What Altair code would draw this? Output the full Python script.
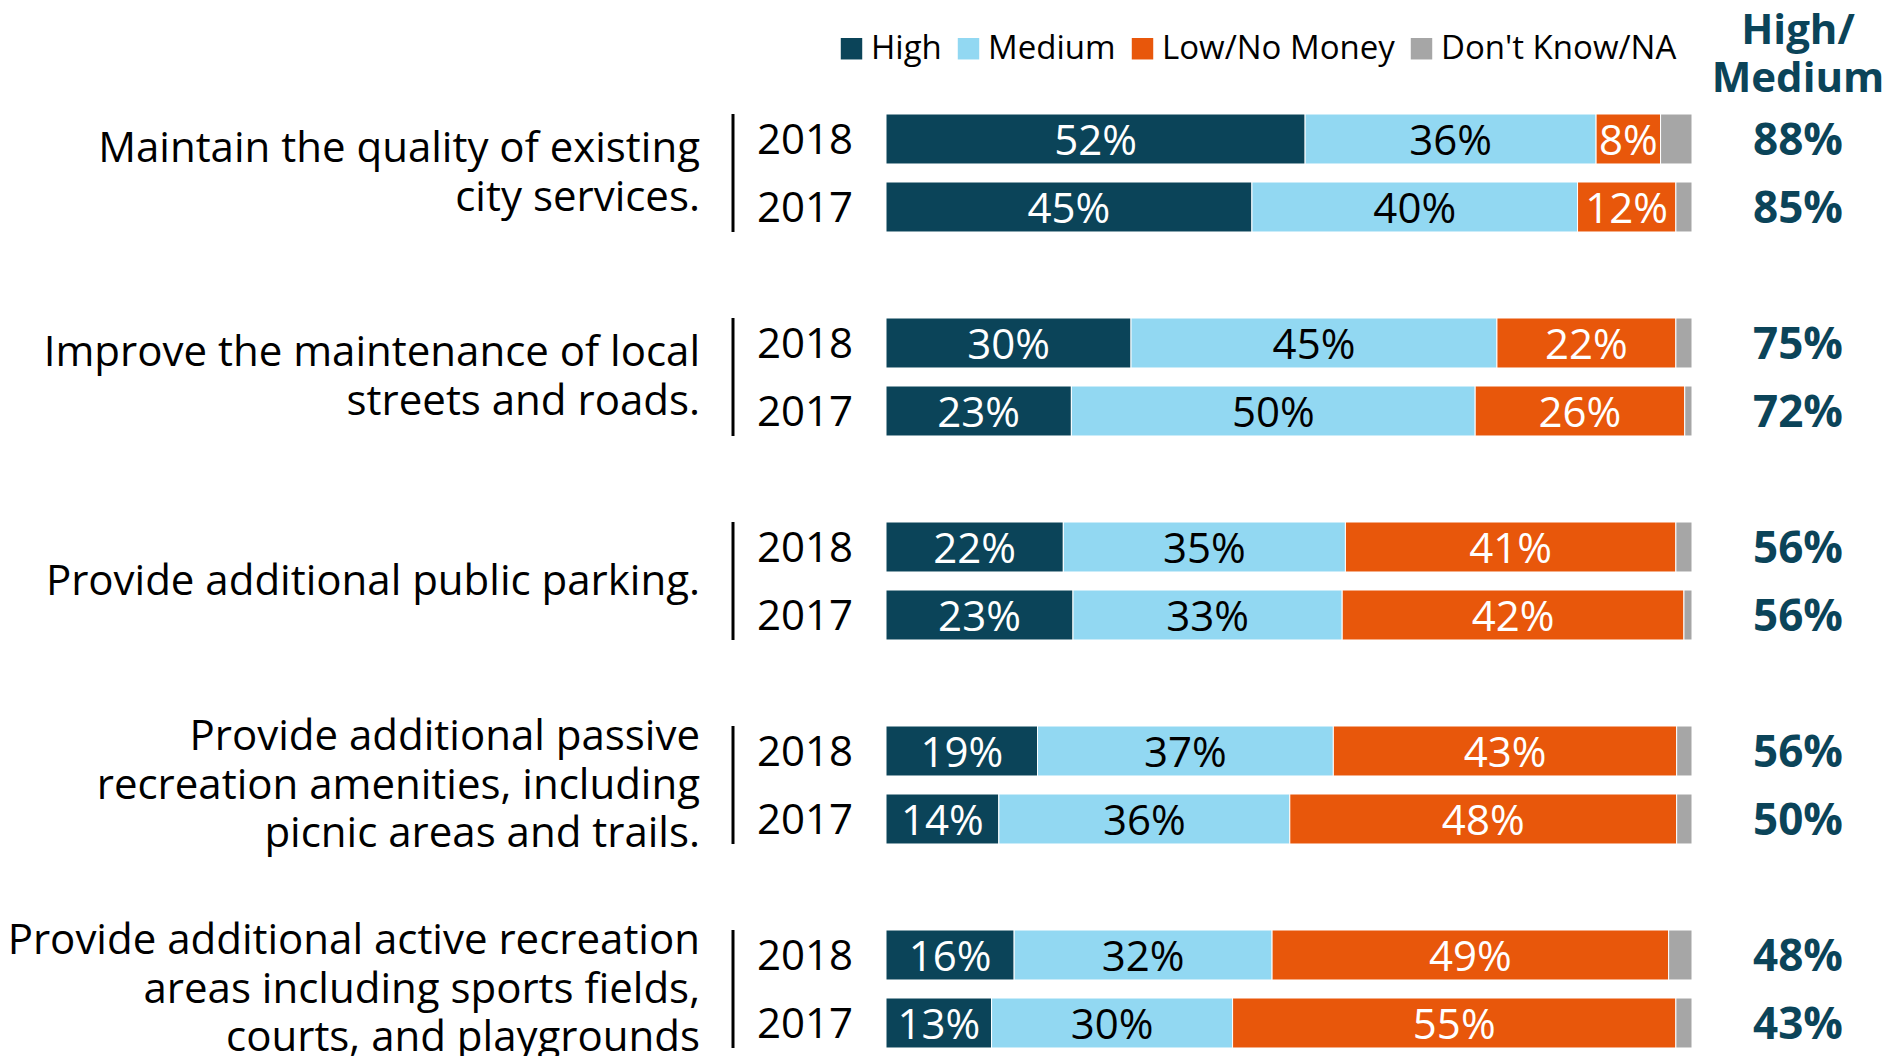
import altair as alt
import pandas as pd

# ---------------- data ----------------
group_labels = [
    ["Maintain the quality of existing", "city services."],
    ["Improve the maintenance of local", "streets and roads."],
    ["Provide additional public parking."],
    ["Provide additional passive", "recreation amenities, including", "picnic areas and trails."],
    ["Provide additional active recreation", "areas including sports fields,", "courts, and playgrounds"],
]
years = ["2018", "2017"]
categories = ["High", "Medium", "Low/No Money", "Don't Know/NA"]
cat_colors = ["#0B4459", "#92D8F2", "#E8570B", "#A6A6A6"]
label_colors = ["white", "black", "white", "black"]

# rows: group1 2018, group1 2017, group2 2018, ...
high = [52.0, 45.4, 30.4, 23.0, 22.0, 23.2, 18.8, 14.0, 15.9, 13.1]
medium = [36.1, 40.4, 45.4, 50.1, 35.0, 33.4, 36.7, 36.1, 32.0, 29.9]
low = [8.0, 12.2, 22.2, 26.0, 41.0, 42.4, 42.6, 48.0, 49.2, 55.0]
dont_know = [3.9, 2.0, 2.0, 0.9, 2.0, 1.0, 1.9, 1.9, 2.9, 2.0]
high_medium = [88, 85, 75, 72, 56, 56, 56, 50, 48, 43]
header_lines = ["High/", "Medium"]

FONT = "Open Sans"
TEAL = "#0B4459"
LINE_H = 48.5

# ---------------- tables ----------------
series = [high, medium, low, dont_know]
seg_rows, row_rows, grp_rows = [], [], []
for g, lines in enumerate(group_labels):
    grp_rows.append({"top": 3 * g, "bottom": 3 * g + 1, "lines": lines, "n": len(lines)})
    for j, yr in enumerate(years):
        i = 2 * g + j
        slot = 3 * g + j
        row_rows.append({"slot": slot, "year": yr, "hm": high_medium[i]})
        for k, cat in enumerate(categories):
            seg_rows.append({
                "slot": slot, "category": cat, "order": k,
                "value": series[k][i], "tcolor": label_colors[k],
                "show": k < 3,
            })

seg_df = pd.DataFrame(seg_rows)
row_df = pd.DataFrame(row_rows)
grp_df = pd.DataFrame(grp_rows)
head_df = pd.DataFrame({"t": [header_lines]})

STEP = 68
N = 14
yscale = alt.Scale(domain=list(range(N)), paddingInner=0.265, paddingOuter=0.1325,
                   range=[0, STEP * N])
xscale = alt.Scale(domain=[0, 100], nice=False, zero=True)

stacked = alt.Chart(seg_df).transform_stack(
    stack="value", groupby=["slot"], sort=[alt.SortField("order")], as_=["x0", "x1"]
)

bars = stacked.mark_bar(stroke="white", strokeWidth=1).encode(
    x=alt.X("x0:Q", scale=xscale, axis=None),
    x2="x1:Q",
    y=alt.Y("slot:O", scale=yscale, axis=None),
    color=alt.Color(
        "category:N",
        scale=alt.Scale(domain=categories, range=cat_colors),
        legend=alt.Legend(
            orient="none", direction="horizontal", columns=4,
            legendX=-51, legendY=-73, title=None,
            symbolType="square", symbolSize=460, symbolStrokeWidth=0,
            symbolOpacity=1, labelFont=FONT, labelFontSize=33,
            labelColor="black", labelOffset=3, columnPadding=10, padding=0,
            labelLimit=400,
        ),
    ),
)

seg_text = stacked.transform_filter("datum.show").transform_calculate(
    mid="(datum.x0 + datum.x1) / 2",
    lbl="format(datum.value, '.0f') + '%'",
).mark_text(font=FONT, fontSize=42, baseline="middle", align="center", dy=3).encode(
    x=alt.X("mid:Q", scale=xscale, axis=None),
    y=alt.Y("slot:O", scale=yscale, axis=None),
    text="lbl:N",
    color=alt.Color("tcolor:N", scale=None, legend=None),
)

year_text = alt.Chart(row_df).mark_text(
    font=FONT, fontSize=42, baseline="middle", align="left", color="black", dy=2
).encode(
    x=alt.value(-129),
    y=alt.Y("slot:O", scale=yscale, axis=None),
    text="year:N",
)

hm_text = alt.Chart(row_df).transform_calculate(
    lbl="datum.hm + '%'"
).mark_text(
    font=FONT, fontSize=44, fontWeight="bold", baseline="middle", align="center",
    color=TEAL, dy=3,
).encode(
    x=alt.value(912),
    y=alt.Y("slot:O", scale=yscale, axis=None),
    text="lbl:N",
)

rules = alt.Chart(grp_df).mark_rule(color="black", strokeWidth=3).encode(
    x=alt.value(-153),
    y=alt.Y("top:O", scale=yscale, axis=None, bandPosition=0),
    y2=alt.Y2("bottom:O", bandPosition=1),
)

# category labels: one layer per line count so the block is centred on the pair of bars
cat_layers = []
for n in (1, 2, 3):
    cat_layers.append(
        alt.Chart(grp_df).transform_filter(f"datum.n == {n}").mark_text(
            font=FONT, fontSize=42, baseline="middle", align="right", color="black",
            lineHeight=LINE_H, dy=STEP / 2 + 0.5 - (n - 1) * LINE_H / 2,
        ).encode(
            x=alt.value(-186),
            y=alt.Y("top:O", scale=yscale, axis=None),
            text="lines",
        )
    )

header = alt.Chart(head_df).mark_text(
    font=FONT, fontSize=42, fontWeight="bold", baseline="alphabetic", align="center",
    color=TEAL, lineHeight=48,
).encode(
    x=alt.value(912),
    y=alt.value(-61),
    text="t",
)

chart = alt.layer(bars, seg_text, year_text, hm_text, rules, *cat_layers, header).properties(
    width=806,
    height=951,
    autosize=alt.AutoSizeParams(type="none"),
    padding={"left": 878, "top": 97, "right": 200, "bottom": 0},
).configure_view(stroke=None)

chart.save("out.html", embed_options={"renderer": "svg", "actions": False})
